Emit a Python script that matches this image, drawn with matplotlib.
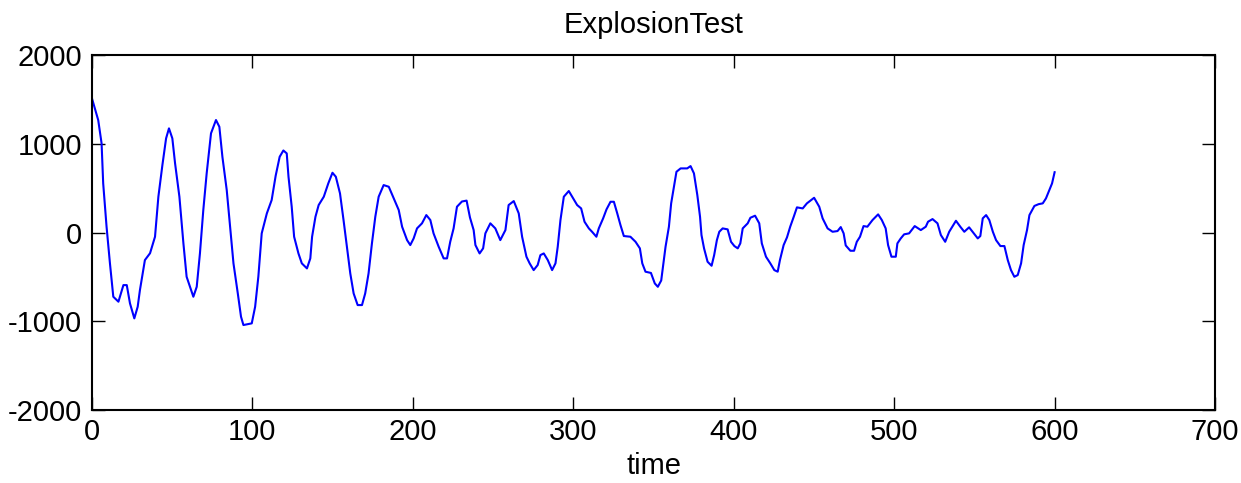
import matplotlib
matplotlib.use("Agg")
import matplotlib.pyplot as plt

plt.rcParams['font.family'] = ['Liberation Sans', 'DejaVu Sans']
plt.rcParams['axes.unicode_minus'] = False

time = [0, 3.9, 6, 7, 9.1, 11.2, 13.3, 16.5, 19.6, 21.7, 23.7, 26.4, 28.5, 29.9, 33, 36.2, 39.3, 41.4, 43.9, 46.2,
        48, 50.1, 51.8, 54.5, 57, 59, 63.2, 65.3, 67.3, 69.4, 71.5, 74.2, 77.3, 79.4, 81.3, 84, 86.1, 88.2, 90.9, 92.9,
        94.4, 99.6, 101.7, 103.7, 105.8, 109, 112, 114.5, 117, 119.3, 121.4, 122.5, 124.5, 126, 128.7, 130.8, 134, 136.1, 137.2, 139.3,
        141.3, 144.5, 147.3, 149.9, 152, 154.6, 156.8, 158.9, 161, 163.1, 165.6, 168.3, 170.3, 172.4, 174.5, 176.6, 178.7, 181.8, 185, 188.1,
        191.2, 193.3, 196.4, 198.4, 200.5, 202.6, 205.7, 208.4, 210.9, 212.9, 216.1, 219.2, 221.3, 223.3, 225.4, 227.5, 230.6, 233.5, 235.6, 237.9,
        239, 241.6, 243.8, 245.2, 248.3, 251.4, 254.5, 257.7, 259.7, 262.9, 266, 268.1, 270.8, 272.8, 275.3, 277.8, 279.5, 281.6, 284.1, 286.8,
        288.9, 290.3, 292, 294.1, 297.2, 299.9, 302.4, 304.9, 307, 309.7, 311.7, 314.4, 315.9, 318.6, 320.7, 323.2, 325.3, 327.4, 329.4, 331.5,
        335.6, 338.8, 341.5, 343, 345, 348.4, 350.8, 352.7, 354.8, 356.4, 357.5, 359.6, 361, 362.7, 364.3, 366.9, 371, 373.1, 375.2, 377.3,
        379, 379.9, 381.5, 383.7, 386.2, 387.8, 389.5, 391, 393.1, 396.2, 398.3, 400.4, 402.5, 404.1, 405.6, 408.7, 410.4, 413.3, 415.9, 417.5,
        420.1, 422.8, 425.3, 427.4, 428.8, 431.1, 433.2, 435.2, 437.4, 439.4, 443, 445.6, 450.1, 453.3, 455.4, 458.5, 461.6, 464.7, 466.7, 468.5,
        469.8, 472.7, 475, 476.7, 478.7, 480.9, 483.3, 486.5, 490, 492.3, 494.7, 496.2, 498.3, 501, 502, 504.1, 506.2, 509.3, 512.8, 516.6,
        519.7, 521.1, 523.9, 527, 529.1, 531.8, 534.3, 538.5, 541.2, 543.7, 546.7, 549.6, 552.1, 553.7, 555.2, 557.3, 559.3, 561.5, 563.5, 566.2,
        568.7, 570.8, 572.8, 574.9, 577, 579.1, 580.7, 582.8, 584.3, 587.4, 590, 592.6, 594.6, 596.7, 598.4, 600]

signal = [1512, 1267, 1005, 554, 66, -345, -723, -779, -592, -592, -798, -967, -836, -648, -310, -233, -47, 404, 760, 1061,
          1174, 1061, 780, 404, -122, -498, -723, -611, -235, 254, 667, 1118, 1268, 1192, 854, 479, 66, -347, -686, -948,
          -1042, -1023, -836, -498, -9, 216, 366, 640, 854, 925, 892, 629, 291, -47, -235, -347, -404, -291, -47, 178,
          310, 404, 554, 674, 629, 441, 141, -160, -460, -686, -817, -817, -686, -460, -122, 178, 404, 535, 516, 385,
          254, 66, -85, -141, -66, 47, 104, 197, 141, -9, -160, -291, -291, -104, 47, 291, 350, 360, 170, 28,
          -141, -235, -178, -9, 104, 47, -85, 28, 310, 355, 216, -47, -272, -347, -423, -366, -254, -235, -310, -423,
          -347, -160, 141, 404, 468, 385, 310, 272, 122, 47, 9, -47, 47, 160, 261, 347, 347, 216, 85, -39,
          -47, -104, -178, -347, -441, -455, -573, -611, -540, -310, -160, 66, 329, 516, 685, 723, 723, 749, 667, 423,
          178, -28, -178, -329, -374, -254, -85, 9, 47, 36, -104, -152, -178, -122, 47, 104, 167, 190, 104, -122,
          -272, -347, -423, -441, -310, -141, -54, 66, 178, 284, 272, 329, 392, 291, 160, 47, 9, 17, 62, -9,
          -145, -205, -205, -104, -47, 73, 66, 141, 205, 141, 47, -141, -272, -272, -122, -66, -20, -9, 73, 28,
          66, 122, 152, 104, -28, -104, 9, 133, 66, 9, 59, -9, -66, -39, 160, 197, 141, 9, -85, -152,
          -152, -310, -423, -498, -479, -347, -141, 28, 197, 300, 320, 329, 385, 479, 554, 680]

x_ticks = [0, 100, 200, 300, 400, 500, 600, 700]
y_ticks = [-2000, -1000, 0, 1000, 2000]

fig = plt.figure(figsize=(12.41, 4.83), dpi=100)
ax = fig.add_axes([0.0741, 0.151, 0.905, 0.735])
ax.plot(time, signal, color=(0, 0, 1), linewidth=1.5)
ax.set_xlim(0, 700)
ax.set_ylim(-2000, 2000)
ax.set_xticks(x_ticks)
ax.set_yticks(y_ticks)
ax.tick_params(direction='in', length=9.4, width=1.0, top=True, right=True,
               labelsize=21, colors='black')
ax.tick_params(axis='x', pad=6)
ax.tick_params(axis='y', pad=7)
for s in ax.spines.values():
    s.set_linewidth(1.5)
ax.set_title('ExplosionTest', fontsize=21, pad=16)
ax.set_xlabel('time', fontsize=21, labelpad=4)
fig.savefig('out.png', dpi=100)
